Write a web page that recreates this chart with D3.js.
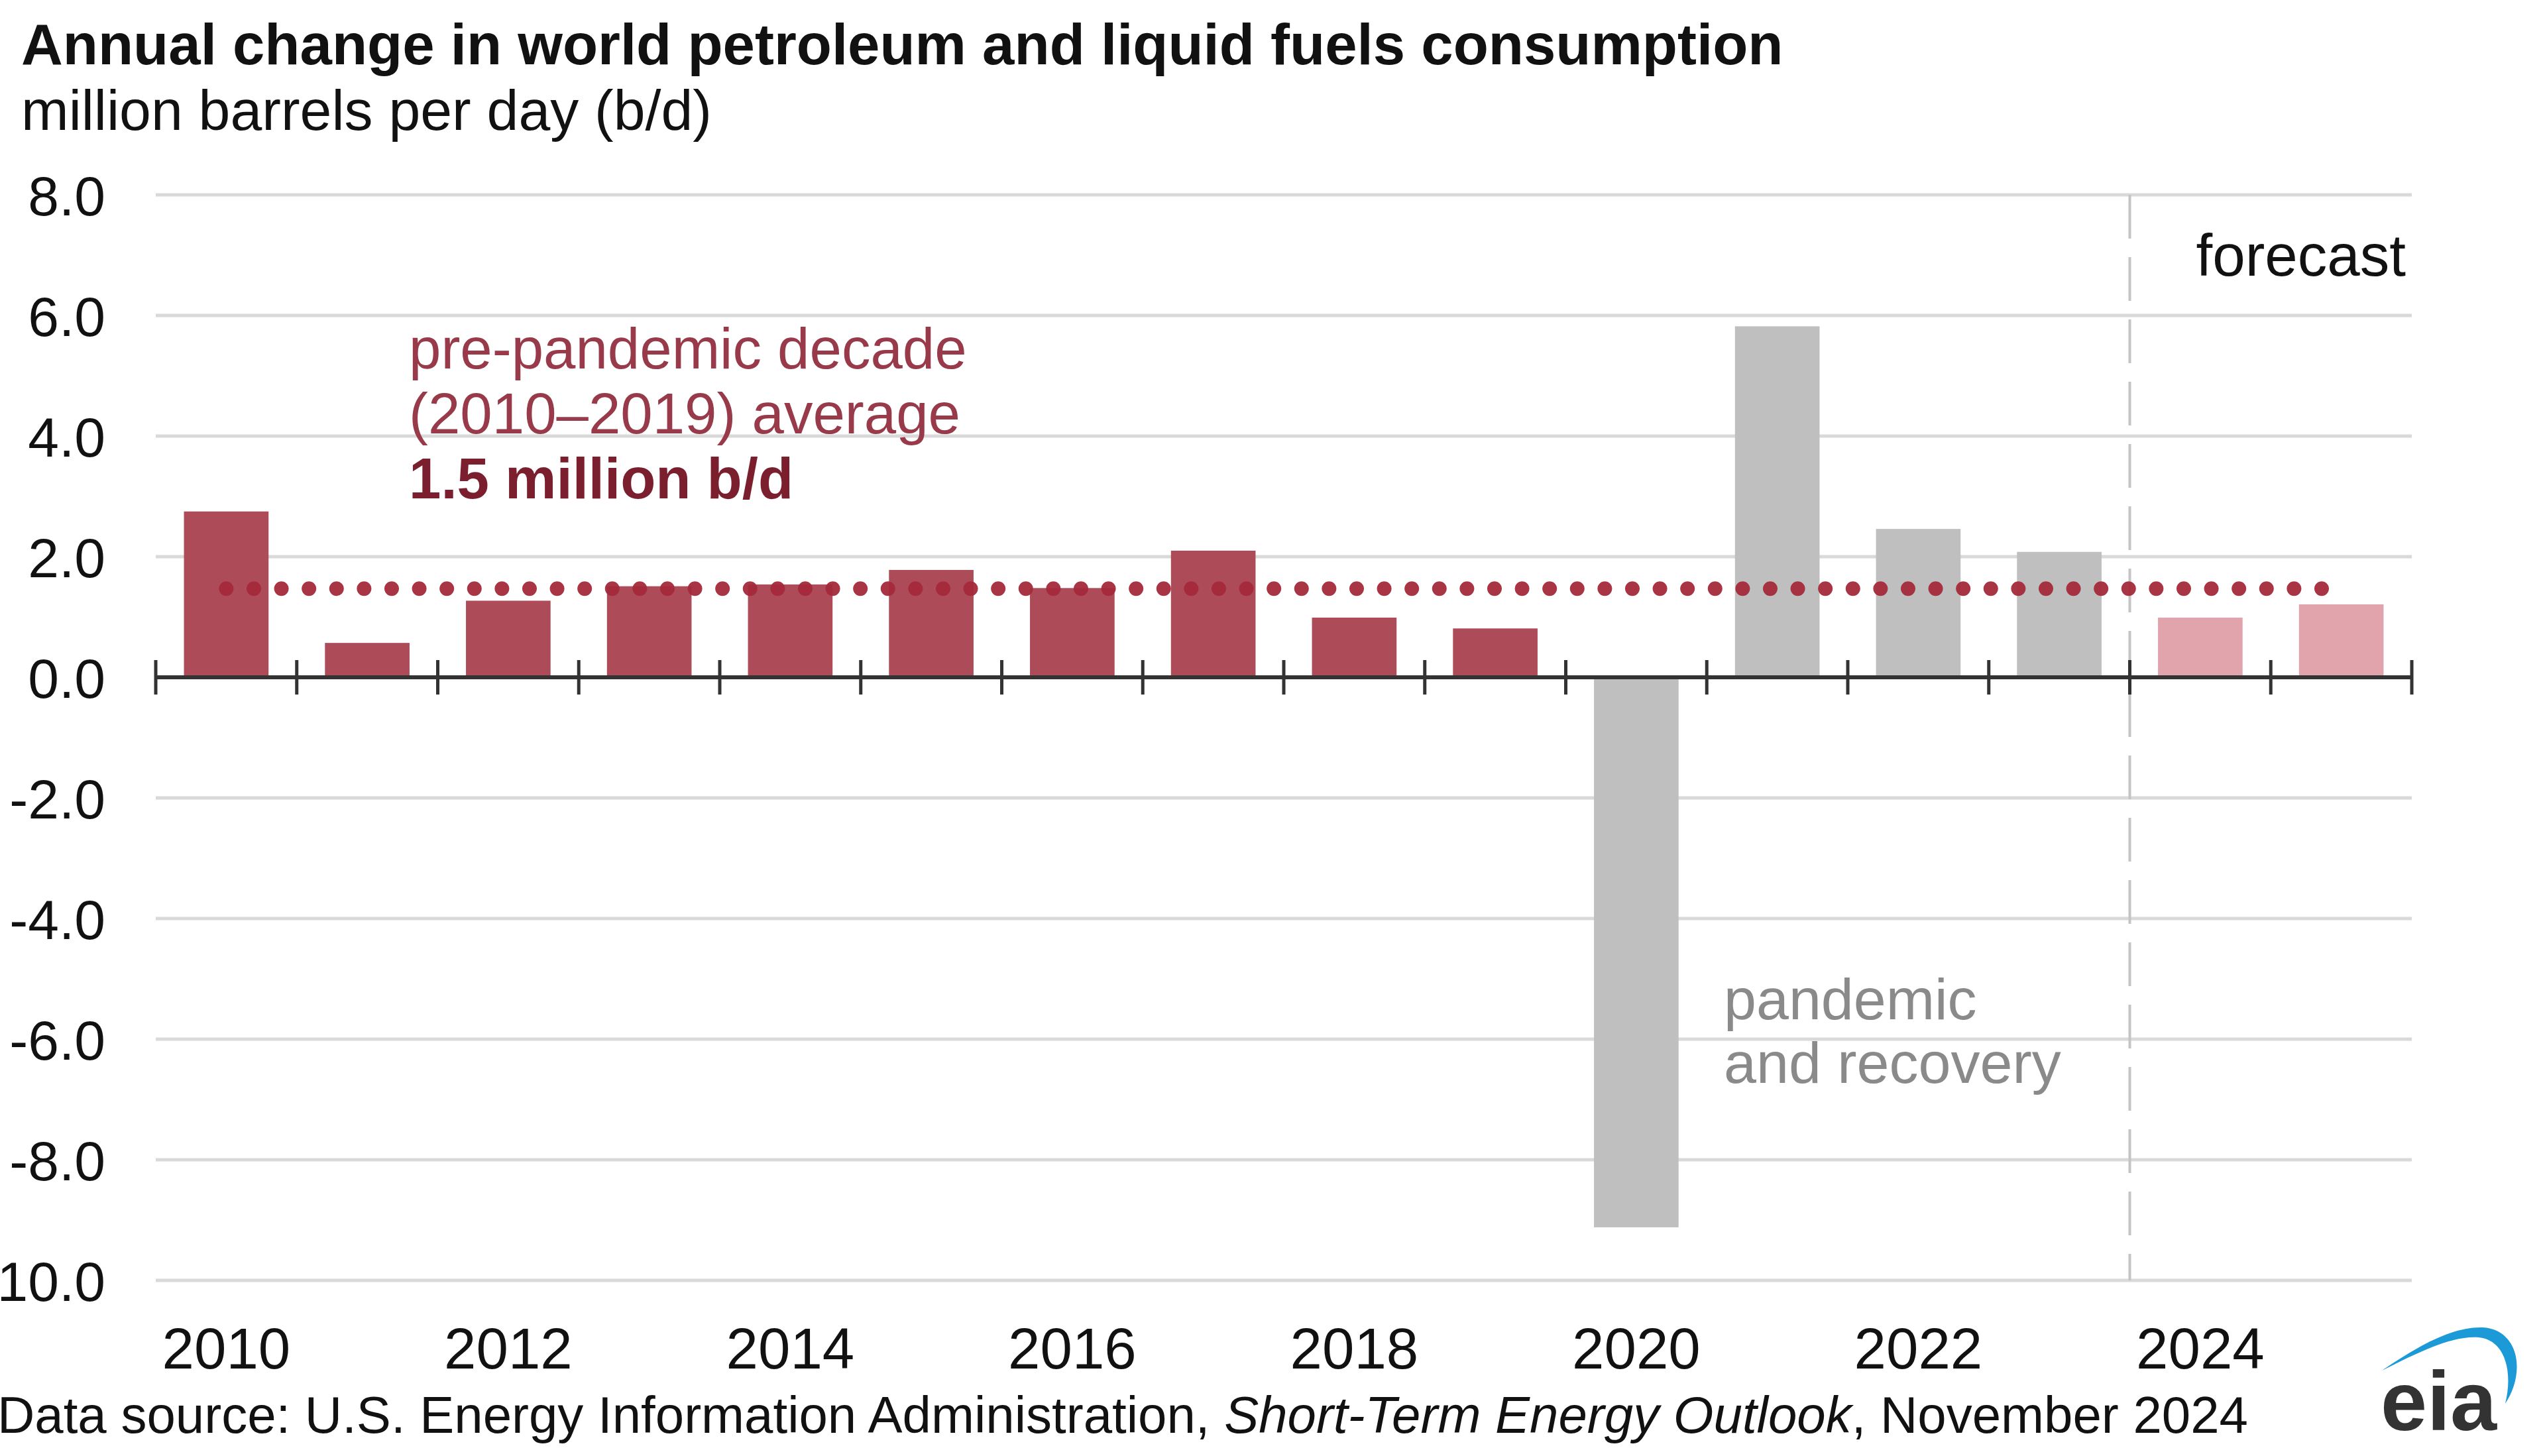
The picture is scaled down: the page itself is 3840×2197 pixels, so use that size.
<!DOCTYPE html>
<html><head><meta charset="utf-8">
<script src="https://cdn.jsdelivr.net/npm/d3@7"></script>
<style>html,body{margin:0;padding:0;background:#fff;overflow:hidden}svg{display:block}</style>
</head><body>
<svg id="chart" width="3840" height="2197"></svg>
<script>
// ---- data ----
const years = [2010,2011,2012,2013,2014,2015,2016,2017,2018,2019,2020,2021,2022,2023,2024,2025];
const values = [2.75,0.57,1.27,1.51,1.54,1.78,1.48,2.10,0.99,0.81,-9.12,5.82,2.46,2.08,0.99,1.21];
const periods = ["pre","pre","pre","pre","pre","pre","pre","pre","pre","pre","pandemic","pandemic","pandemic","pandemic","forecast","forecast"];
const yTicks = [8,6,4,2,0,-2,-4,-6,-8,-10];
const xLabelYears = [2010,2012,2014,2016,2018,2020,2022,2024];
const averageValue = 1.47;
const title = "Annual change in world petroleum and liquid fuels consumption";
const subtitle = "million barrels per day (b/d)";

// ---- layout ----
const W = 3840, H = 2197;
const L = 235, R = 3639, T = 294, B = 1932;
const FONT = "'Liberation Sans', Arial, sans-serif";
const colors = {pre:"#ad4c58", pandemic:"#bfbfbf", forecast:"#e2a4ac"};

const svg = d3.select("#chart").style("font-family", FONT);

const x = d3.scaleBand().domain(years).range([L, R]).paddingInner(0.4).paddingOuter(0.2);
const y = d3.scaleLinear().domain([-10, 8]).range([B, T]);

// title
svg.append("text").attr("x", 32).attr("y", 97).attr("font-size", 87).attr("font-weight", "bold")
  .attr("fill", "#111").text(title);
svg.append("text").attr("x", 32).attr("y", 196).attr("font-size", 86)
  .attr("fill", "#111").text(subtitle);

// gridlines
svg.append("g").selectAll("line").data(yTicks.filter(d => d !== 0)).join("line")
  .attr("x1", L).attr("x2", R).attr("y1", d => y(d)).attr("y2", d => y(d))
  .attr("stroke", "#d9d9d9").attr("stroke-width", 5);

// y axis labels
const yAxis = svg.append("g").attr("transform", `translate(${L},0)`)
  .call(d3.axisLeft(y).tickValues(yTicks).tickSize(0).tickPadding(76).tickFormat(d => d.toFixed(1)));
yAxis.select(".domain").remove();
yAxis.selectAll("text").attr("font-size", 84).attr("font-family", FONT).attr("fill", "#111").attr("dy", "0.36em");

// bars
svg.append("g").selectAll("rect").data(years).join("rect")
  .attr("x", d => x(d)).attr("width", x.bandwidth())
  .attr("y", (d, i) => y(Math.max(0, values[i])))
  .attr("height", (d, i) => Math.abs(y(values[i]) - y(0)))
  .attr("fill", (d, i) => colors[periods[i]]);

// forecast divider
const step = x.step(), gapHalf = step * x.paddingInner() / 2;
const divX = x(2024) - gapHalf;
svg.append("line").attr("x1", divX).attr("x2", divX).attr("y1", T).attr("y2", B)
  .attr("stroke", "#c4c4c4").attr("stroke-width", 4).attr("stroke-dasharray", "66 28");

// average dotted line
svg.append("line")
  .attr("x1", x(2010) + x.bandwidth() / 2).attr("x2", x(2025) + x.bandwidth() / 2 - 10)
  .attr("y1", y(averageValue)).attr("y2", y(averageValue))
  .attr("stroke", "#a52a3b").attr("stroke-width", 22).attr("stroke-linecap", "round")
  .attr("stroke-dasharray", "0 41.6").attr("opacity", 0.95);

// x axis: zero line, boundary ticks, labels
svg.append("line").attr("x1", L).attr("x2", R).attr("y1", y(0)).attr("y2", y(0))
  .attr("stroke", "#333").attr("stroke-width", 6);
const bounds = years.map(yr => x(yr) - gapHalf).concat([x(2025) + x.bandwidth() + gapHalf]);
svg.append("g").selectAll("line").data(bounds).join("line")
  .attr("x1", d => d).attr("x2", d => d).attr("y1", y(0) - 26).attr("y2", y(0) + 26)
  .attr("stroke", "#333").attr("stroke-width", 5);

const xAxis = svg.append("g").attr("transform", `translate(0,${B})`)
  .call(d3.axisBottom(x).tickValues(xLabelYears).tickSize(0).tickPadding(71).tickFormat(d3.format("d")));
xAxis.select(".domain").remove();
xAxis.selectAll("text").attr("font-size", 87).attr("font-family", FONT).attr("fill", "#111");

// annotations
const ann = svg.append("g").attr("font-size", 87);
ann.append("text").attr("x", 617).attr("y", 556).attr("fill", "#983a4a").text("pre-pandemic decade");
ann.append("text").attr("x", 617).attr("y", 654).attr("fill", "#983a4a").text("(2010–2019) average");
ann.append("text").attr("x", 617).attr("y", 752).attr("fill", "#7b1f2e").attr("font-weight", "bold").text("1.5 million b/d");
ann.append("text").attr("x", 3630).attr("y", 416).attr("text-anchor", "end").attr("fill", "#111").attr("font-size", 89).text("forecast");
ann.append("text").attr("x", 2601).attr("y", 1538).attr("fill", "#8a8a8a").attr("font-size", 88).text("pandemic");
ann.append("text").attr("x", 2601).attr("y", 1634).attr("fill", "#8a8a8a").attr("font-size", 88).text("and recovery");

// source
const src = svg.append("text").attr("x", 3392).attr("y", 2162).attr("text-anchor", "end")
  .attr("font-size", 78).attr("fill", "#111");
src.append("tspan").text("Data source: U.S. Energy Information Administration, ");
src.append("tspan").attr("font-style", "italic").text("Short-Term Energy Outlook");
src.append("tspan").text(", November 2024");

// eia logo
const logo = svg.append("g");
logo.append("path")
  .attr("d", "M3594,2068 C3650,2030 3700,2002 3745,2003 C3800,2005 3812,2070 3780,2118 C3792,2070 3780,2022 3740,2018 C3700,2015 3650,2040 3594,2068 Z")
  .attr("fill", "#1b9ad7");
logo.append("text").attr("x", 3592).attr("y", 2158).attr("font-size", 126).attr("font-weight", "bold")
  .attr("fill", "#333").text("eia");
</script>
</body></html>
